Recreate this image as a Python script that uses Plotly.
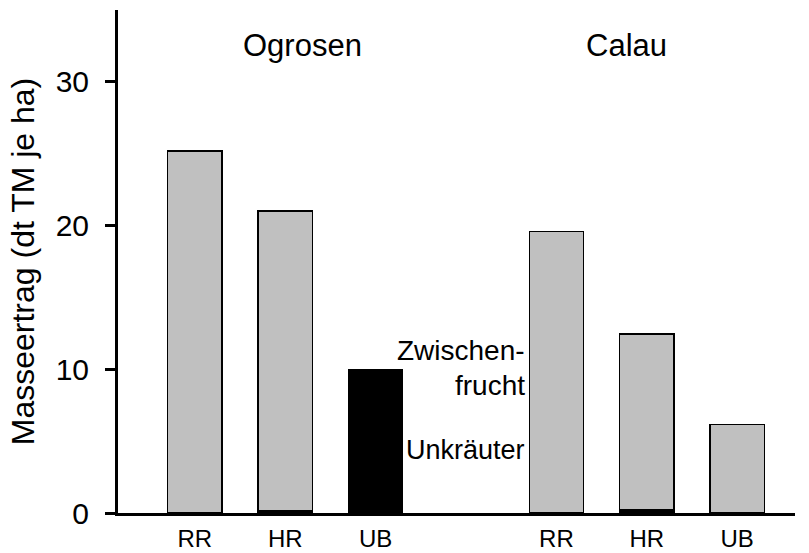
import plotly.graph_objects as go

# Standorte und Varianten
sites = ["Ogrosen", "Ogrosen", "Ogrosen", "Calau", "Calau", "Calau"]
variants = ["RR", "HR", "UB", "RR", "HR", "UB"]
# Gesamtertrag je Parzelle (dt TM je ha)
total = [25.2, 21.0, 10.0, 19.6, 12.45, 6.15]
# Anteil Unkräuter (dt TM je ha)
unkraeuter = [0.05, 0.15, 10.0, 0.05, 0.22, 0.05]
zwischenfrucht = [t - u for t, u in zip(total, unkraeuter)]

# Positionen: Lücke zwischen den beiden Standorten
xpos = [0, 1, 2, 4, 5, 6]

font_family = "Liberation Sans, Arial, sans-serif"

fig = go.Figure()
fig.add_trace(go.Bar(
    x=xpos, y=unkraeuter, name="Unkräuter", width=0.6,
    marker=dict(color="black", line=dict(color="black", width=1.5)),
))
fig.add_trace(go.Bar(
    x=xpos, y=zwischenfrucht, name="Zwischenfrucht", width=0.6,
    marker=dict(color="#c0c0c0", line=dict(color="black", width=1.5)),
))

fig.update_layout(
    barmode="stack",
    width=809, height=553,
    margin=dict(l=118, r=14, t=10, b=40),
    plot_bgcolor="white", paper_bgcolor="white",
    showlegend=False,
    font=dict(family=font_family, color="black"),
    xaxis=dict(
        range=[-0.85, 6.64],
        tickmode="array", tickvals=xpos, ticktext=variants,
        showline=True, linecolor="black", linewidth=3,
        ticks="", showgrid=False, zeroline=False,
        ticklabelstandoff=2, automargin=False,
        tickfont=dict(size=24),
    ),
    yaxis=dict(
        range=[0, 35],
        tickvals=[0, 10, 20, 30],
        showline=True, linecolor="black", linewidth=3,
        ticks="outside", ticklen=10, tickwidth=3, tickcolor="black",
        ticklabelstandoff=10, automargin=False,
        showgrid=False, zeroline=False,
        tickfont=dict(size=30),
        title=dict(text="Masseertrag (dt TM je ha)", font=dict(size=32), standoff=12),
    ),
)

# Standortbeschriftungen
fig.add_annotation(x=1.19, y=32.5, xref="x", yref="y", text="Ogrosen",
                   showarrow=False, font=dict(size=31))
fig.add_annotation(x=4.78, y=32.5, xref="x", yref="y", text="Calau",
                   showarrow=False, font=dict(size=31))

# Legende als Textbeschriftung neben dem Balken
fig.add_annotation(x=3.68, y=11.3, xref="x", yref="y", text="Zwischen-",
                   showarrow=False, xanchor="right", align="right",
                   font=dict(size=28))
fig.add_annotation(x=3.68, y=8.85, xref="x", yref="y", text="frucht",
                   showarrow=False, xanchor="right", align="right",
                   font=dict(size=28))
fig.add_annotation(x=3.68, y=4.4, xref="x", yref="y", text="Unkräuter",
                   showarrow=False, xanchor="right", align="right",
                   font=dict(size=27))

fig.write_html("out.html")
